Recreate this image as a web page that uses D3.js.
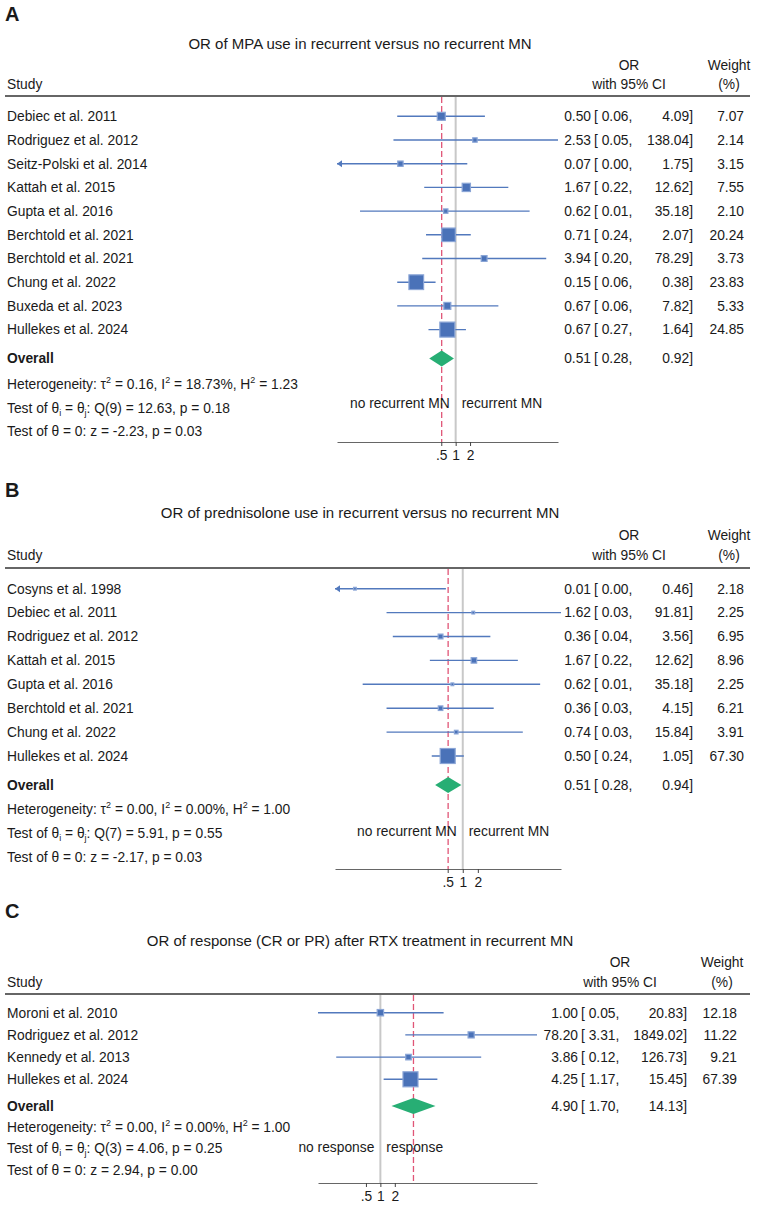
<!DOCTYPE html>
<html>
<head>
<meta charset="utf-8">
<script src="https://cdn.jsdelivr.net/npm/d3@7"></script>
<style>
  body { margin: 0; background: #fff; }
  svg text { font-family: "Liberation Sans", Arial, sans-serif; fill: #1a1a1a; }
</style>
</head>
<body>
<div id="chart"></div>
<script>
// ---- panel A data
const studiesA = ["Debiec et al. 2011", "Rodriguez et al. 2012", "Seitz-Polski et al. 2014", "Kattah et al. 2015",
  "Gupta et al. 2016", "Berchtold et al. 2021", "Berchtold et al. 2021", "Chung et al. 2022",
  "Buxeda et al. 2023", "Hullekes et al. 2024"];
const orA = [0.50, 2.53, 0.07, 1.67, 0.62, 0.71, 3.94, 0.15, 0.67, 0.67];
const loA = [0.06, 0.05, 0.00, 0.22, 0.01, 0.24, 0.20, 0.06, 0.06, 0.27];
const hiA = [4.09, 138.04, 1.75, 12.62, 35.18, 2.07, 78.29, 0.38, 7.82, 1.64];
const weightA = [7.07, 2.14, 3.15, 7.55, 2.10, 20.24, 3.73, 23.83, 5.33, 24.85];
const overallA = [0.51, 0.28, 0.92];
const statsA = ["0.16", "18.73%", "1.23", "Q(9) = 12.63, p = 0.18", "z = -2.23, p = 0.03"];

// ---- panel B data
const studiesB = ["Cosyns et al. 1998", "Debiec et al. 2011", "Rodriguez et al. 2012", "Kattah et al. 2015",
  "Gupta et al. 2016", "Berchtold et al. 2021", "Chung et al. 2022", "Hullekes et al. 2024"];
const orB = [0.007, 1.62, 0.36, 1.67, 0.62, 0.36, 0.74, 0.50];
const loB = [0.00, 0.03, 0.04, 0.22, 0.01, 0.03, 0.03, 0.24];
const hiB = [0.46, 91.81, 3.56, 12.62, 35.18, 4.15, 15.84, 1.05];
const weightB = [2.18, 2.25, 6.95, 8.96, 2.25, 6.21, 3.91, 67.30];
const overallB = [0.51, 0.28, 0.94];
const statsB = ["0.00", "0.00%", "1.00", "Q(7) = 5.91, p = 0.55", "z = -2.17, p = 0.03"];

// ---- panel C data
const studiesC = ["Moroni et al. 2010", "Rodriguez et al. 2012", "Kennedy et al. 2013", "Hullekes et al. 2024"];
const orC = [1.00, 78.20, 3.86, 4.25];
const loC = [0.05, 3.31, 0.12, 1.17];
const hiC = [20.83, 1849.02, 126.73, 15.45];
const weightC = [12.18, 11.22, 9.21, 67.39];
const overallC = [4.90, 1.70, 14.13];
const statsC = ["0.00", "0.00%", "1.00", "Q(3) = 4.06, p = 0.25", "z = 2.94, p = 0.00"];

const tickVals = [0.5, 1, 2];
const tickLabels = [".5", "1", "2"];

const width = 758, height = 1205;
const fs = 13.8;
const fmt = d3.format(".2f");

const svg = d3.select("#chart").append("svg")
  .attr("width", width)
  .attr("height", height);
svg.append("rect").attr("width", width).attr("height", height).attr("fill", "#fff");

function drawPanel(p) {
  let g = svg.append("g");
  let x = d3.scaleLog().domain(p.domain).range(p.range);
  let y = d3.scaleLinear().domain([0, 1]).range([p.row0, p.row0 + p.step]);
  let size = d3.scaleSqrt().domain([0, d3.max(p.weight)]).range([0, 15]);

  g.append("text").attr("x", 5).attr("y", p.letterY).attr("dy", "0.35em")
    .style("font-size", "20px").style("font-weight", "bold").text(p.letter);
  g.append("text").attr("x", 360).attr("y", p.titleY).attr("dy", "0.35em")
    .attr("text-anchor", "middle").style("font-size", "15px").text(p.title);

  // header
  g.append("text").attr("x", 7).attr("y", p.ciY).attr("dy", "0.35em").style("font-size", fs + "px").text("Study");
  g.append("text").attr("x", p.orX).attr("y", p.orY).attr("dy", "0.35em").attr("text-anchor", "middle").style("font-size", fs + "px").text("OR");
  g.append("text").attr("x", p.orX).attr("y", p.ciY).attr("dy", "0.35em").attr("text-anchor", "middle").style("font-size", fs + "px").text("with 95% CI");
  g.append("text").attr("x", p.wX).attr("y", p.orY).attr("dy", "0.35em").attr("text-anchor", "middle").style("font-size", fs + "px").text("Weight");
  g.append("text").attr("x", p.wX).attr("y", p.ciY).attr("dy", "0.35em").attr("text-anchor", "middle").style("font-size", fs + "px").text("(%)");
  g.append("line").attr("x1", 5).attr("x2", 750).attr("y1", p.lineY).attr("y2", p.lineY)
    .attr("stroke", "#333").attr("stroke-width", 1.5);

  // reference lines
  g.append("line").attr("x1", x(1)).attr("x2", x(1)).attr("y1", p.lineY + 1).attr("y2", p.axisY)
    .attr("stroke", "#c8c8c8").attr("stroke-width", 2);
  g.append("line").attr("x1", x(p.overall[0])).attr("x2", x(p.overall[0])).attr("y1", p.lineY + 1).attr("y2", p.axisY)
    .attr("stroke", "#e05577").attr("stroke-width", 1.3).attr("stroke-dasharray", "6,3");

  let dmin = p.domain[0], dmax = p.domain[1];
  let rows = p.studies.map((s, i) => ({s: s, or: p.or[i], lo: p.lo[i], hi: p.hi[i], w: p.weight[i], i: i}));

  let row = g.selectAll("g.row").data(rows).enter().append("g").attr("class", "row");
  row.append("line")
    .attr("x1", d => x(Math.max(d.lo, dmin)))
    .attr("x2", d => x(Math.min(d.hi, dmax)))
    .attr("y1", d => y(d.i)).attr("y2", d => y(d.i))
    .attr("stroke", "#5279bd").attr("stroke-width", 1.4);
  row.filter(d => d.lo < dmin).append("path")
    .attr("d", d => `M${x(dmin)},${y(d.i)} l5,-3.5 l0,7 z`)
    .attr("fill", "#5279bd");
  row.append("rect")
    .attr("x", d => x(d.or) - size(d.w) / 2)
    .attr("y", d => y(d.i) - size(d.w) / 2)
    .attr("width", d => size(d.w)).attr("height", d => size(d.w))
    .attr("fill", "#4a72b8").attr("stroke", "#8aa5d6").attr("stroke-width", 1.2);

  row.append("text").attr("x", 7).attr("y", d => y(d.i)).attr("dy", "0.35em").style("font-size", fs + "px").text(d => d.s);
  row.append("text").attr("x", p.estX).attr("y", d => y(d.i)).attr("dy", "0.35em").attr("text-anchor", "end").style("font-size", fs + "px").text(d => fmt(d.or));
  row.append("text").attr("x", p.estX + 3).attr("y", d => y(d.i)).attr("dy", "0.35em").style("font-size", fs + "px").text(d => "[ " + fmt(d.lo) + ",");
  row.append("text").attr("x", p.hiX).attr("y", d => y(d.i)).attr("dy", "0.35em").attr("text-anchor", "end").style("font-size", fs + "px").text(d => fmt(d.hi) + "]");
  row.append("text").attr("x", p.weightX).attr("y", d => y(d.i)).attr("dy", "0.35em").attr("text-anchor", "end").style("font-size", fs + "px").text(d => fmt(d.w));

  // overall
  let ov = p.overall, oy = p.overallY;
  g.append("path")
    .attr("d", `M${x(ov[1])},${oy} L${x(ov[0])},${oy - 8} L${x(ov[2])},${oy} L${x(ov[0])},${oy + 8} Z`)
    .attr("fill", "#27ae74");
  g.append("text").attr("x", 7).attr("y", oy).attr("dy", "0.35em").style("font-size", fs + "px").style("font-weight", "bold").text("Overall");
  g.append("text").attr("x", p.estX).attr("y", oy).attr("dy", "0.35em").attr("text-anchor", "end").style("font-size", fs + "px").text(fmt(ov[0]));
  g.append("text").attr("x", p.estX + 3).attr("y", oy).attr("dy", "0.35em").style("font-size", fs + "px").text("[ " + fmt(ov[1]) + ",");
  g.append("text").attr("x", p.hiX).attr("y", oy).attr("dy", "0.35em").attr("text-anchor", "end").style("font-size", fs + "px").text(fmt(ov[2]) + "]");

  // stats lines
  let het = g.append("text").attr("x", 7).attr("y", p.hetY).attr("dy", "0.35em").style("font-size", fs + "px");
  het.append("tspan").text("Heterogeneity: τ");
  het.append("tspan").attr("dy", -6).style("font-size", "9px").text("2");
  het.append("tspan").attr("dy", 6).text(" = " + p.stats[0] + ", I");
  het.append("tspan").attr("dy", -6).style("font-size", "9px").text("2");
  het.append("tspan").attr("dy", 6).text(" = " + p.stats[1] + ", H");
  het.append("tspan").attr("dy", -6).style("font-size", "9px").text("2");
  het.append("tspan").attr("dy", 6).text(" = " + p.stats[2]);

  let q = g.append("text").attr("x", 7).attr("y", p.qY).attr("dy", "0.35em").style("font-size", fs + "px");
  q.append("tspan").text("Test of θ");
  q.append("tspan").attr("dy", 3).style("font-size", "9px").text("i");
  q.append("tspan").attr("dy", -3).text(" = θ");
  q.append("tspan").attr("dy", 3).style("font-size", "9px").text("j");
  q.append("tspan").attr("dy", -3).text(": " + p.stats[3]);

  g.append("text").attr("x", 7).attr("y", p.zY).attr("dy", "0.35em").style("font-size", fs + "px")
    .text("Test of θ = 0: " + p.stats[4]);

  // favour labels
  g.append("text").attr("x", x(1) - 6).attr("y", p.labelY).attr("dy", "0.35em").attr("text-anchor", "end")
    .style("font-size", fs + "px").text(p.labels[0]);
  g.append("text").attr("x", x(1) + 6).attr("y", p.labelY).attr("dy", "0.35em")
    .style("font-size", fs + "px").text(p.labels[1]);

  // axis
  let axis = g.append("g").attr("transform", `translate(0, ${p.axisY})`)
    .call(d3.axisBottom(x).tickValues(tickVals).tickFormat((d, i) => tickLabels[i])
      .tickSize(4).tickPadding(4).tickSizeOuter(0));
  axis.select(".domain").attr("stroke", "#666");
  axis.selectAll(".tick line").attr("stroke", "#444");
  axis.selectAll(".tick text").style("font-size", fs + "px").style("font-family", "'Liberation Sans', Arial, sans-serif").attr("fill", "#1a1a1a");
}

drawPanel({
  letter: "A", title: "OR of MPA use in recurrent versus no recurrent MN",
  studies: studiesA, or: orA, lo: loA, hi: hiA, weight: weightA, overall: overallA, stats: statsA,
  labels: ["no recurrent MN", "recurrent MN"],
  domain: [0.0033, 138.04], range: [337, 558],
  letterY: 14, titleY: 44, orY: 65, ciY: 84, lineY: 96, row0: 116.3, step: 23.7,
  overallY: 358.5, hetY: 384, qY: 408, zY: 431, labelY: 403, axisY: 442,
  orX: 629, wX: 729, estX: 591, hiX: 693, weightX: 744
});

drawPanel({
  letter: "B", title: "OR of prednisolone use in recurrent versus no recurrent MN",
  studies: studiesB, or: orB, lo: loB, hi: hiB, weight: weightB, overall: overallB, stats: statsB,
  labels: ["no recurrent MN", "recurrent MN"],
  domain: [0.0028, 91.81], range: [335, 561],
  letterY: 490, titleY: 513, orY: 535, ciY: 555, lineY: 568, row0: 588.7, step: 23.9,
  overallY: 785, hetY: 809, qY: 833, zY: 857, labelY: 831, axisY: 869,
  orX: 629, wX: 729, estX: 591, hiX: 693, weightX: 744
});

drawPanel({
  letter: "C", title: "OR of response (CR or PR) after RTX treatment in recurrent MN",
  studies: studiesC, or: orC, lo: loC, hi: hiC, weight: weightC, overall: overallC, stats: statsC,
  labels: ["no response", "response"],
  domain: [0.05, 1849.02], range: [318, 537],
  letterY: 911, titleY: 941, orY: 962, ciY: 982, lineY: 994, row0: 1012.7, step: 22.2,
  overallY: 1106, hetY: 1127, qY: 1148, zY: 1170, labelY: 1147, axisY: 1183,
  orX: 620, wX: 722, estX: 578, hiX: 687, weightX: 737
});
</script>
</body>
</html>
